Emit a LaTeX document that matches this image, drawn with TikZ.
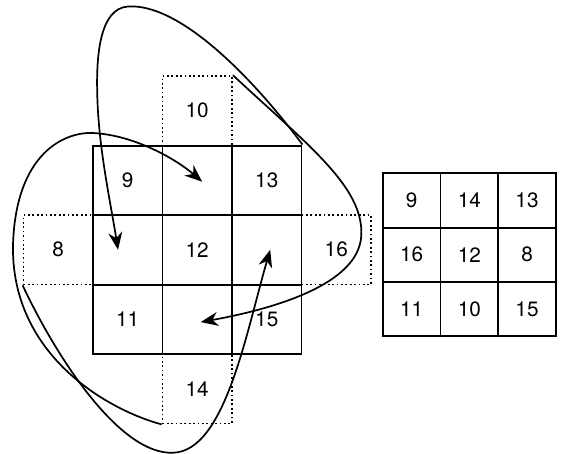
\documentclass[tikz,border=0pt]{standalone}
\usepackage{fontspec}
\setmainfont{TeX Gyre Heros}
\usetikzlibrary{arrows.meta}

\begin{document}
\begin{tikzpicture}[x=1cm,y=1cm,
  cell/.style={draw,line width=.8pt,minimum width=1cm,minimum height=1cm,inner sep=0pt,font=\fontsize{8.5}{10}\selectfont},
  outcell/.style={cell,line width=.7pt,dash pattern=on .7pt off 1.1pt},
  smallcell/.style={cell,minimum width=.83cm,minimum height=.78cm},
  rot/.style={line width=.7pt,-{Stealth[length=2.5mm,width=2mm,inset=.8mm]}}]
\useasboundingbox (-1.338,-1.424) rectangle (6.748,5.094);
\node[outcell] (n10) at (1.5,3.5) {10};
\node[outcell] (n14) at (1.5,-.5) {14};
\node[outcell] (n8) at (-.5,1.5) {8};
\node[outcell] (n16) at (3.5,1.5) {16};
\foreach \t [count=\i from 0, evaluate=\i as \c using {int(mod(\i,3))}, evaluate=\i as \r using {int(\i/3)}] in {9,,13,,12,,11,,15}
  \node[cell] (m\c\r) at (\c+.5,2.5-\r) {\t};
\foreach \t [count=\i from 0, evaluate=\i as \c using {int(mod(\i,3))}, evaluate=\i as \r using {int(\i/3)}] in {9,14,13,16,12,8,11,10,15}
  \node[smallcell] (r\c\r) at (4.585+.83*\c,2.21-.78*\r) {\t};
\coordinate (t10) at (1.55,.46);
\coordinate (t16) at (.36,1.5);
\coordinate (t8) at (2.55,1.5);
\coordinate (t14) at (1.57,2.48);
\draw[rot] (n10.north east) .. controls (3.1,3.0) and (3.9,2.4) .. (3.86,1.7) .. controls (3.82,1.0) and (2.6,.65) .. (t10);
\draw[rot] (m20.north east) .. controls (2.2,4.1) and (1.2,5.05) .. (.5,5) .. controls (.1,4.97) and (.05,4.3) .. (.06,3.8) .. controls (.07,3) and (.25,2.2) .. (t16);
\draw[rot] (n8.south west) .. controls (-.5,-.1) and (.4,-1.45) .. (1.15,-1.42) .. controls (1.9,-1.4) and (2.2,.3) .. (t8);
\draw[rot] (n14.south west) .. controls (.2,-.8) and (-1.2,0) .. (-1.15,1.6) .. controls (-1.1,2.9) and (-.4,3.2) .. (0,3.18) .. controls (.6,3.15) and (1.2,2.8) .. (t14);
\end{tikzpicture}
\end{document}
